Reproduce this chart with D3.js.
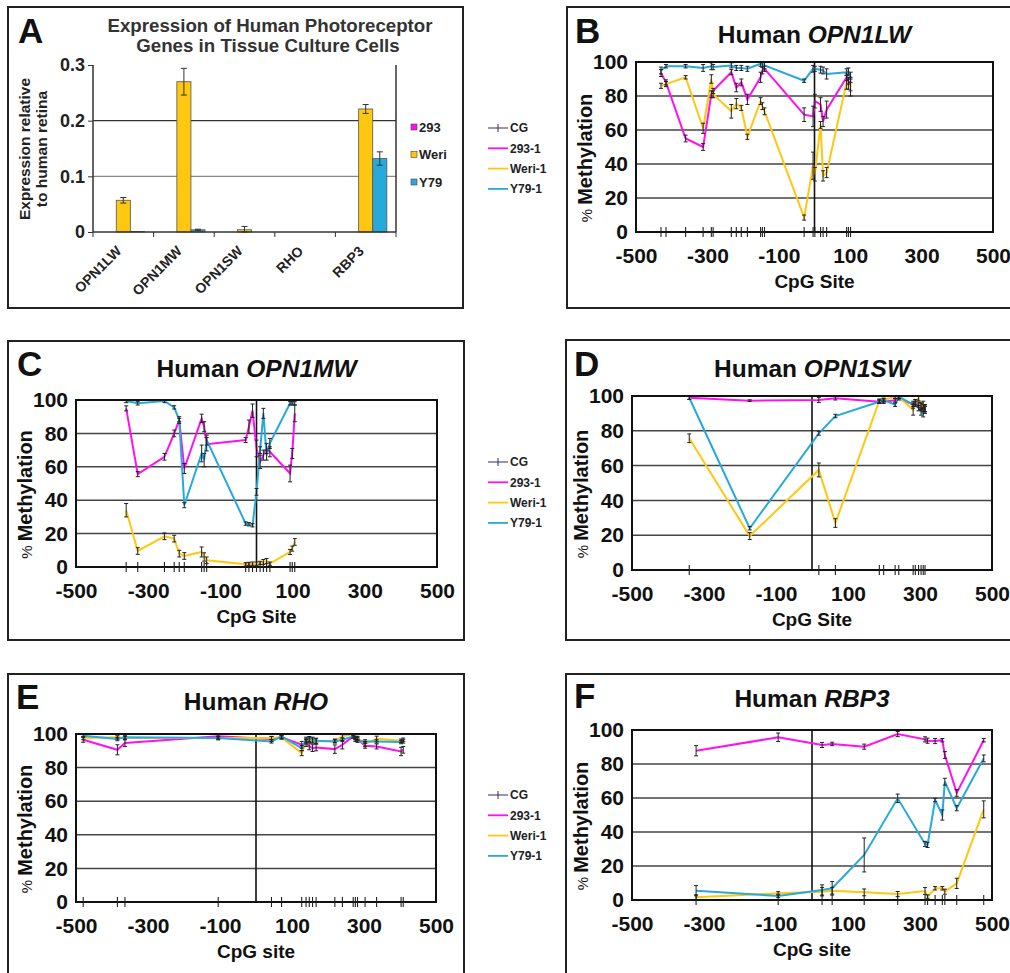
<!DOCTYPE html>
<html>
<head>
<meta charset="utf-8">
<script src="https://cdn.jsdelivr.net/npm/d3@7"></script>
<style>
  body { margin: 0; background: #fff; }
  svg text { font-family: "Liberation Sans", Arial, sans-serif; }
</style>
</head>
<body>
<svg id="fig" width="1010" height="973"></svg>
<script>
// ---- Panel A: expression relative to retina ----
const genes = ["OPN1LW", "OPN1MW", "OPN1SW", "RHO", "RBP3"];
const cellLines = ["293", "Weri", "Y79"];
const expr293 = [0, 0, 0, 0, 0];
const exprWeri = [0.057, 0.270, 0.004, 0, 0.221];
const exprY79 = [0.001, 0.004, 0, 0, 0.132];
const errExprWeri = [0.005, 0.024, 0.006, 0, 0.008];
const errExprY79 = [0, 0.001, 0, 0, 0.012];
const exprTicks = [0, 0.1, 0.2, 0.3];

// ---- methylation panels (CpG site vs % methylation) ----
const pctTicks = [0, 20, 40, 60, 80, 100];
const siteTicks = [-500, -300, -100, 100, 300, 500];
const seriesNames = ["CG", "293-1", "Weri-1", "Y79-1"];

// B: OPN1LW
const lwSites = [-430, -416, -361, -312, -289, -284, -233, -219, -205, -188, -151, -146, -140, -29, -4, 1, 17, 24, 34, 90, 95, 101];
const lw293 = [93.5, 88, 55, 50, 81, 83, 94, 85, 88, 78, 91, 95, 96, 69, 68, 77, 75, 65, 72, 91, 89, 87];
const lwWeri = [86, 87, 91, 61, 90, 81, 71, 75.5, 73, 56, 77, 74, 71, 8.5, 39, 34, 63, 33, 35, 88, 87, 85];
const lwY79 = [95, 97.5, 97.5, 96.5, 97.5, 97, 98, 96.5, 96.5, 96, 99, 99, 98, 89, 96, 96, 95.5, 95, 93, 94, 94.5, 91];
const lwErr293 = [2, 1.5, 2, 2, 2, 1.5, 1.5, 2.5, 2, 3, 3, 2, 1.5, 4, 6, 4, 4, 3, 5, 2, 2, 4];
const lwErrWeri = [1.5, 1.5, 1, 3, 2.5, 2, 4, 3, 1.5, 1.5, 2, 2, 2, 1.5, 8, 4, 2, 3, 3, 4, 3, 5];
const lwErrY79 = [2, 1, 1, 2, 2, 1.5, 1.5, 1.5, 1.5, 1.5, 1.5, 2, 2, 1, 2, 1.5, 2, 2, 3, 2, 2, 3];

// C: OPN1MW
const mwSites = [-361, -329, -255, -228, -214, -200, -152, -145, -138, -30, -21, -11, 0, 10, 19, 28, 37, 93, 99, 106];
const mw293 = [95, 55.6, 66, 80, 88, 59, 89, 84, 73.5, 76, 84, 93.6, 71, 63, 67, 71, 69, 56, 68, 92];
const mwWeri = [34, 9.6, 18.4, 17, 8, 6.6, 9, 6, 4, 1.6, 1.8, 2, 2, 2.4, 3, 3.6, 2, 9, 11, 15];
const mwY79 = [99.4, 98, 99.4, 95.6, 88, 37, 68, 64, 76, 26, 25.6, 25, 45, 70, 92, 67, 74, 98, 98, 98];
const mwErr293 = [1.5, 1.5, 2, 2, 2, 3, 2.5, 3, 4, 1.5, 4, 4, 5, 4, 3, 3, 3, 5, 3, 5];
const mwErrWeri = [4, 2, 2, 2, 2, 2, 3, 2.5, 2, 1, 1, 1, 1, 1, 1.5, 1.5, 1, 1.5, 1.5, 2];
const mwErrY79 = [1, 1, 1, 1, 1, 1.5, 5, 4, 3, 1, 1, 1, 2, 2, 3, 3, 3, 1, 1, 1];

// D: OPN1SW
const swSites = [-341, -173, 19, 65, 187, 199, 231, 241, 281, 287, 296, 303, 309, 314];
const sw293 = [99, 97.3, 97.7, 98.7, 96.7, 96.7, 97.5, 98.7, 95, 96, 95, 94, 93, 93];
const swWeri = [75.7, 19.5, 57.5, 27, 97.3, 97.7, 99.6, 99.6, 92, 96, 98.7, 94, 95, 93];
const swY79 = [99, 24, 78.5, 88.5, 96.7, 97.7, 95, 99.6, 95, 96, 93, 91, 90, 92];
const swErr293 = [1, 0.5, 1.5, 1, 1, 1, 1, 1, 2, 2, 1.5, 2, 2, 2];
const swErrWeri = [2.5, 2, 4, 2.5, 1, 1, 1, 1, 3, 2, 1.5, 2, 2, 2];
const swErrY79 = [1, 1, 1, 1, 1, 1, 1, 1, 1, 1, 1.5, 2, 2, 2];

// E: RHO
const rhoSites = [-480, -385, -364, -105, 43, 71, 127, 139, 148, 157, 167, 219, 240, 270, 276, 282, 303, 335, 403, 409];
const rho293 = [96.6, 90.6, 94.6, 98.6, 97, 98, 93.6, 94.6, 92.6, 91.6, 92, 91, 93.6, 98.6, 97.6, 97, 93, 92.6, 89.6, 90.6];
const rhoWeri = [97.6, 98, 97.6, 97.6, 97.6, 98, 88.6, 95.6, 96.6, 96, 95.6, 96, 98.6, 100, 97.6, 97.6, 94, 97.2, 96, 96.6];
const rhoY79 = [99, 97, 98, 97.6, 95.6, 98.6, 91.6, 96.6, 97, 96.6, 96, 95.6, 96.6, 98.6, 96.6, 96, 95.6, 95.6, 95.2, 95.6];
const rhoErr293 = [1.5, 3, 2, 1, 1.5, 1, 2, 2, 2, 2, 2, 2.5, 2.5, 1, 1, 1, 1.5, 1.5, 2.5, 2];
const rhoErrWeri = [1, 1, 1, 1, 1, 1, 1.5, 1.5, 1.5, 1.5, 1.5, 1, 1, 1, 1, 1, 1.5, 1.5, 1, 1];
const rhoErrY79 = [1, 1, 1, 1, 1, 1, 1.5, 1.5, 1.5, 1.5, 1.5, 1, 1, 1, 1, 1, 1, 1, 1, 1];

// F: RBP3
const rbpSites = [-322, -94, 28, 56, 145, 238, 314, 321, 342, 362, 369, 402, 477];
const rbp293 = [87.8, 95.7, 91.2, 91.8, 90.2, 97.6, 94.5, 93.7, 93.5, 94, 85.3, 63, 94];
const rbpWeri = [1.6, 3.9, 4.9, 5.5, 4.5, 3.5, 5.3, 2, 6.9, 6.9, 4.9, 9.8, 53.3];
const rbpY79 = [5.5, 2.4, 5.9, 6.9, 26.5, 59.8, 33, 32.4, 58.8, 50, 69.6, 54, 83.3];
const rbpErr293 = [3, 2.5, 1.5, 1, 1.5, 1.5, 1.5, 1.5, 1.5, 1, 2, 2, 1];
const rbpErrWeri = [1.5, 1, 2.5, 2, 2, 1.5, 2, 1, 1, 1, 1.5, 3, 5];
const rbpErrY79 = [3, 1, 3, 4, 10, 2.5, 1.5, 1.5, 1, 3, 2, 1.5, 2];

const colors = { "293": "#ff10f0", "Weri": "#ffc70f", "Y79": "#27a9dc", "CG": "#8c87b4" };
const svg = d3.select("#fig");

function frame(x, y, w, h) {
    svg.append("rect").attr("x", x).attr("y", y).attr("width", w).attr("height", h)
        .attr("fill", "none").attr("stroke", "#222").attr("stroke-width", 2);
}

function letter(txt, x, y) {
    svg.append("text").attr("x", x).attr("y", y).text(txt)
        .attr("font-size", 35).attr("font-weight", "bold").attr("fill", "#111");
}

// ------------------------------------------------------------------
// Panel A: grouped bar chart
// ------------------------------------------------------------------
(function drawA() {
    frame(8, 7, 455, 301);
    letter("A", 18, 43);
    const left = 93, right = 396, top = 65, bottom = 232;
    const x = d3.scaleBand().domain(genes).range([left, right]);
    const xs = d3.scaleBand().domain(cellLines).range([0, x.bandwidth()]).paddingOuter(0.65);
    const y = d3.scaleLinear().domain([0, 0.3]).range([bottom, top]);
    const g = svg.append("g");

    g.append("text").attr("x", 270).attr("y", 32).attr("text-anchor", "middle")
        .attr("font-size", 18.7).attr("font-weight", "bold").attr("fill", "#333")
        .text("Expression of Human Photoreceptor");
    g.append("text").attr("x", 268).attr("y", 52).attr("text-anchor", "middle")
        .attr("font-size", 18.7).attr("font-weight", "bold").attr("fill", "#333")
        .text("Genes in Tissue Culture Cells");

    // gridlines
    g.selectAll(".gridA").data([0.1, 0.2]).join("line")
        .attr("x1", left).attr("x2", right).attr("y1", d => y(d)).attr("y2", d => y(d))
        .attr("stroke", d => d === 0.2 ? "#333" : "#888").attr("stroke-width", 1.4);

    const rows = genes.map((gene, i) => ({
        gene,
        bars: [
            { line: "293", v: expr293[i], e: 0 },
            { line: "Weri", v: exprWeri[i], e: errExprWeri[i] },
            { line: "Y79", v: exprY79[i], e: errExprY79[i] }
        ]
    }));

    const grp = g.selectAll(".grp").data(rows).join("g")
        .attr("transform", d => `translate(${x(d.gene)},0)`);
    grp.selectAll("rect").data(d => d.bars.filter(b => b.v > 0)).join("rect")
        .attr("x", b => xs(b.line)).attr("width", xs.bandwidth())
        .attr("y", b => y(b.v)).attr("height", b => y(0) - y(b.v))
        .attr("fill", b => colors[b.line]).attr("stroke", "#555").attr("stroke-width", 0.8);
    const eb = grp.selectAll(".eb").data(d => d.bars.filter(b => b.e > 0)).join("g")
        .attr("stroke", "#333").attr("stroke-width", 1);
    const mid = b => xs(b.line) + xs.bandwidth() / 2;
    eb.append("line").attr("x1", mid).attr("x2", mid)
        .attr("y1", b => y(b.v + b.e)).attr("y2", b => y(Math.max(0, b.v - b.e)));
    eb.append("line").attr("x1", b => mid(b) - 3).attr("x2", b => mid(b) + 3)
        .attr("y1", b => y(b.v + b.e)).attr("y2", b => y(b.v + b.e));
    eb.append("line").attr("x1", b => mid(b) - 3).attr("x2", b => mid(b) + 3)
        .attr("y1", b => y(Math.max(0, b.v - b.e))).attr("y2", b => y(Math.max(0, b.v - b.e)));

    // axes lines
    g.append("line").attr("x1", left).attr("x2", left).attr("y1", top).attr("y2", bottom).attr("stroke", "#333").attr("stroke-width", 1.5);
    g.append("line").attr("x1", right).attr("x2", right).attr("y1", top).attr("y2", bottom).attr("stroke", "#333").attr("stroke-width", 1.5);
    g.append("line").attr("x1", left).attr("x2", right).attr("y1", bottom).attr("y2", bottom).attr("stroke", "#333").attr("stroke-width", 1.5);

    const yAxis = g.append("g").attr("transform", `translate(${left},0)`)
        .call(d3.axisLeft(y).tickValues(exprTicks).tickFormat(d => d === 0 ? "0" : d3.format(".1f")(d)).tickSize(5).tickPadding(3));
    yAxis.select(".domain").remove();
    yAxis.attr("font-family", null).attr("font-size", null);
    yAxis.selectAll("line").attr("stroke", "#333");
    yAxis.selectAll("text").attr("font-size", 18).attr("font-weight", "bold").attr("fill", "#222");

    // category boundary ticks
    const bounds = genes.map(d => x(d)).concat([right]);
    g.selectAll(".bt").data(bounds).join("line")
        .attr("x1", d => d).attr("x2", d => d).attr("y1", bottom).attr("y2", bottom + 5)
        .attr("stroke", "#333");

    g.selectAll(".xl").data(genes).join("text")
        .attr("transform", d => `translate(${x(d) + x.bandwidth() / 2 - 1},${bottom + 20}) rotate(-45)`)
        .attr("text-anchor", "end").attr("font-size", 14).attr("font-weight", "bold").attr("fill", "#222")
        .text(d => d);

    g.append("text").attr("transform", "translate(30,149) rotate(-90)").attr("text-anchor", "middle")
        .attr("font-size", 15.5).attr("font-weight", "bold").attr("fill", "#222").text("Expression relative");
    g.append("text").attr("transform", "translate(47,149) rotate(-90)").attr("text-anchor", "middle")
        .attr("font-size", 15.5).attr("font-weight", "bold").attr("fill", "#222").text("to human retina");

    // legend
    const lg = g.selectAll(".lgA").data(cellLines).join("g")
        .attr("transform", (d, i) => `translate(411,${127 + i * 27.5})`);
    lg.append("rect").attr("x", 0).attr("y", -3).attr("width", 6).attr("height", 6)
        .attr("fill", d => colors[d]).attr("stroke", "#444").attr("stroke-width", 0.6);
    lg.append("text").attr("x", 8).attr("dy", "0.35em").attr("font-size", 13).attr("font-weight", "bold")
        .attr("fill", "#222").text(d => d);
})();

// ------------------------------------------------------------------
// Methylation line panels
// ------------------------------------------------------------------
function methylPanel(cfg) {
    frame(cfg.box[0], cfg.box[1], cfg.box[2], cfg.box[3]);
    letter(cfg.letter, cfg.letterPos[0], cfg.letterPos[1]);
    const [x0, y0, x1, y1] = cfg.plot;
    const x = d3.scaleLinear().domain([-500, 500]).range([x0, x1]);
    const y = d3.scaleLinear().domain([0, 100]).range([y1, y0]);
    const g = svg.append("g");
    const cx = (x0 + x1) / 2;

    const title = g.append("text").attr("x", cx).attr("y", cfg.titleY).attr("text-anchor", "middle")
        .attr("font-size", 24.5).attr("font-weight", "bold").attr("fill", "#111");
    title.append("tspan").text("Human ");
    title.append("tspan").attr("font-style", "italic").text(cfg.gene);

    g.selectAll(".grid").data([20, 40, 60, 80]).join("line")
        .attr("x1", x(-500)).attr("x2", x(500)).attr("y1", d => y(d)).attr("y2", d => y(d))
        .attr("stroke", "#444").attr("stroke-width", 1.5);
    g.append("line").attr("x1", x(0)).attr("x2", x(0)).attr("y1", y(0)).attr("y2", y(100))
        .attr("stroke", "#111").attr("stroke-width", 1.6);

    const yAxis = g.append("g").attr("transform", `translate(${x0},0)`)
        .call(d3.axisLeft(y).tickValues(pctTicks).tickSize(0).tickPadding(8));
    const xAxis = g.append("g").attr("transform", `translate(0,${y1})`)
        .call(d3.axisBottom(x).tickValues(siteTicks).tickFormat(d => String(d)).tickSize(0).tickPadding(16));
    [yAxis, xAxis].forEach(ax => {
        ax.select(".domain").remove();
        ax.attr("font-family", null).attr("font-size", null);
        ax.selectAll("text").attr("font-size", 21).attr("font-weight", "bold").attr("fill", "#111");
    });

    g.append("text").attr("x", cx).attr("y", y1 + 56).attr("text-anchor", "middle")
        .attr("font-size", 19).attr("font-weight", "bold").attr("fill", "#111").text(cfg.xTitle);
    const yt = g.append("text").attr("transform", `translate(${x0 - 44},${(y0 + y1) / 2 + 11}) rotate(-90)`)
        .attr("text-anchor", "middle").attr("fill", "#111");
    yt.append("tspan").attr("font-size", 15).text("% ");
    yt.append("tspan").attr("font-size", 20).attr("font-weight", "bold").text("Methylation");

    const series = [
        { key: "293", vals: cfg.s293, err: cfg.e293 },
        { key: "Weri", vals: cfg.sWeri, err: cfg.eWeri },
        { key: "Y79", vals: cfg.sY79, err: cfg.eY79 }
    ];
    const line = d3.line().x(d => x(d.site)).y(d => y(d.v));
    series.forEach(s => {
        const pts = cfg.sites.map((site, i) => ({ site, v: s.vals[i], e: s.err[i] }));
        g.append("path").datum(pts).attr("d", line).attr("fill", "none")
            .attr("stroke", colors[s.key]).attr("stroke-width", 2);
        s.pts = pts;
    });
    series.forEach(s => {
        const eb = g.append("g").attr("stroke", "#222").attr("stroke-width", 1)
            .selectAll("g").data(s.pts).join("g");
        const hi = d => y(Math.min(100, d.v + d.e));
        const lo = d => y(d.v - d.e);
        eb.append("line").attr("x1", d => x(d.site)).attr("x2", d => x(d.site)).attr("y1", hi).attr("y2", lo);
        eb.append("line").attr("x1", d => x(d.site) - 2).attr("x2", d => x(d.site) + 2).attr("y1", hi).attr("y2", hi);
        eb.append("line").attr("x1", d => x(d.site) - 2).attr("x2", d => x(d.site) + 2).attr("y1", lo).attr("y2", lo);
    });

    g.append("rect").attr("x", x0).attr("y", y0).attr("width", x1 - x0).attr("height", y1 - y0)
        .attr("fill", "none").attr("stroke", "#111").attr("stroke-width", 2);

    // CpG site markers (CG series)
    g.selectAll(".cg").data(cfg.sites).join("line")
        .attr("x1", d => x(d)).attr("x2", d => x(d)).attr("y1", y(0) - 5).attr("y2", y(0) + 5)
        .attr("stroke", "#222").attr("stroke-width", 1.1);
}

function legend(x, y) {
    const lg = svg.append("g").attr("transform", `translate(${x},${y})`);
    const items = lg.selectAll("g").data(seriesNames).join("g")
        .attr("transform", (d, i) => `translate(0,${i * 20.3})`);
    items.append("line").attr("x1", 0).attr("x2", 20).attr("stroke-width", 1.8)
        .attr("stroke", (d, i) => [colors.CG, colors["293"], colors.Weri, colors.Y79][i]);
    items.filter(d => d === "CG").append("line").attr("x1", 10).attr("x2", 10).attr("y1", -4).attr("y2", 4)
        .attr("stroke", "#333").attr("stroke-width", 1);
    items.append("text").attr("x", 22).attr("dy", "0.35em").attr("font-size", 12).attr("font-weight", "bold")
        .attr("fill", "#222").text(d => d);
}

methylPanel({ box: [567, 7, 460, 301], plot: [636, 62, 993, 232], letter: "B", letterPos: [575, 43], titleY: 43,
    gene: "OPN1LW", xTitle: "CpG Site", sites: lwSites, s293: lw293, sWeri: lwWeri, sY79: lwY79,
    e293: lwErr293, eWeri: lwErrWeri, eY79: lwErrY79 });
methylPanel({ box: [8, 341, 456, 299], plot: [76, 400, 437, 567], letter: "C", letterPos: [17, 376], titleY: 377,
    gene: "OPN1MW", xTitle: "CpG Site", sites: mwSites, s293: mw293, sWeri: mwWeri, sY79: mwY79,
    e293: mwErr293, eWeri: mwErrWeri, eY79: mwErrY79 });
methylPanel({ box: [566, 340, 460, 300], plot: [632, 396, 992, 570], letter: "D", letterPos: [574, 376], titleY: 377,
    gene: "OPN1SW", xTitle: "CpG Site", sites: swSites, s293: sw293, sWeri: swWeri, sY79: swY79,
    e293: swErr293, eWeri: swErrWeri, eY79: swErrY79 });
methylPanel({ box: [8, 674, 456, 320], plot: [76, 734, 436, 902], letter: "E", letterPos: [16, 709], titleY: 710,
    gene: "RHO", xTitle: "CpG site", sites: rhoSites, s293: rho293, sWeri: rhoWeri, sY79: rhoY79,
    e293: rhoErr293, eWeri: rhoErrWeri, eY79: rhoErrY79 });
methylPanel({ box: [566, 674, 460, 320], plot: [632, 730, 992, 900], letter: "F", letterPos: [574, 708], titleY: 707,
    gene: "RBP3", xTitle: "CpG site", sites: rbpSites, s293: rbp293, sWeri: rbpWeri, sY79: rbpY79,
    e293: rbpErr293, eWeri: rbpErrWeri, eY79: rbpErrY79 });

legend(488, 128);
legend(488, 462);
legend(488, 795);
</script>
</body>
</html>
